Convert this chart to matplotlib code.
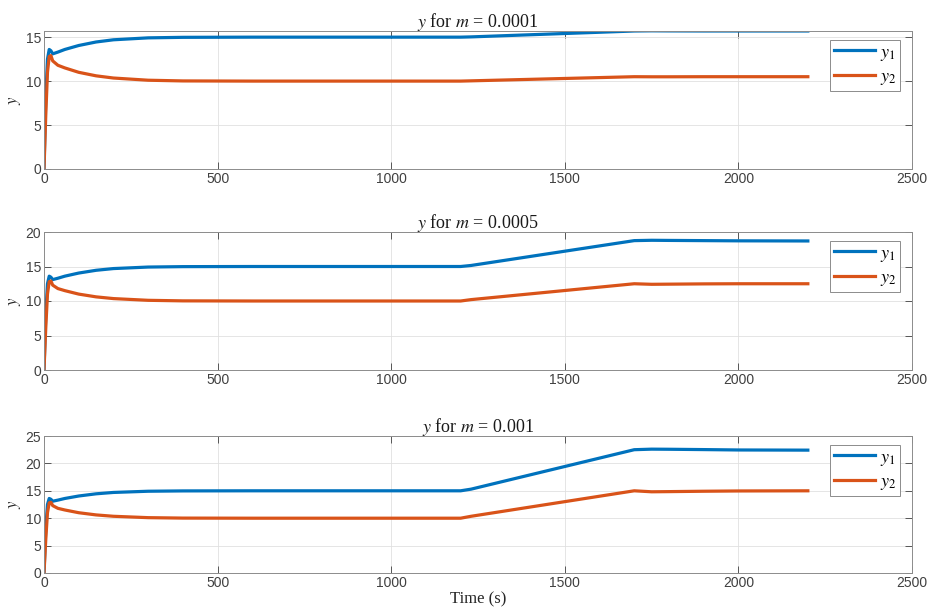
import numpy as np
import matplotlib.pyplot as plt

plt.rcParams['mathtext.fontset'] = 'stix'
plt.rcParams['font.family'] = ['Liberation Sans', 'DejaVu Sans']

# time samples (s)
t = [0, 5, 10, 15, 20, 25, 40, 60, 100, 150, 200, 300, 400, 600, 1200,
     1230, 1700, 1750, 1800, 1900, 2000, 2200]

# common start-up transient (up to 1200 s)
y1_start = [0, 8, 12.5, 13.6, 13.45, 13.1, 13.3, 13.6, 14.05, 14.45, 14.7,
            14.92, 14.98, 15.0, 15.0]
y2_start = [0, 6, 11, 12.8, 12.9, 12.3, 11.8, 11.5, 11.0, 10.6, 10.35,
            10.1, 10.02, 10.0, 10.0]

m_labels = ['0.0001', '0.0005', '0.001']

y1_tail = [
    [15.03, 15.7, 15.72, 15.71, 15.7, 15.7, 15.7],
    [15.15, 18.75, 18.8, 18.78, 18.75, 18.72, 18.7],
    [15.3, 22.5, 22.6, 22.58, 22.52, 22.45, 22.42],
]
y2_tail = [
    [10.03, 10.5, 10.49, 10.49, 10.5, 10.5, 10.5],
    [10.2, 12.5, 12.42, 12.44, 12.48, 12.5, 12.5],
    [10.35, 15.0, 14.82, 14.85, 14.92, 14.97, 15.0],
]

y_tops = [15.7, 20, 25]
y_ticks = [[0, 5, 10, 15], [0, 5, 10, 15, 20], [0, 5, 10, 15, 20, 25]]

fig = plt.figure(figsize=(9.3, 6.16), dpi=100)
boxes = [(44, 31, 169), (44, 232, 370), (44, 436, 573)]
W, H = 930, 616

for i, (x0, top, bot) in enumerate(boxes):
    ax = fig.add_axes([x0 / W, 1 - bot / H, (912 - x0) / W, (bot - top) / H])
    y1 = y1_start + y1_tail[i]
    y2 = y2_start + y2_tail[i]
    ax.plot(t, y1, color='#0072BD', lw=2.3, label='$y_1$')
    ax.plot(t, y2, color='#D95319', lw=2.3, label='$y_2$')
    ax.set_xlim(0, 2500)
    ax.set_ylim(0, y_tops[i])
    ax.set_xticks([0, 500, 1000, 1500, 2000, 2500])
    ax.set_yticks(y_ticks[i])
    ax.grid(True, color='#e0e0e0', lw=0.6)
    ax.tick_params(direction='in', top=True, right=True, length=5,
                   labelsize=10, color='#404040', labelcolor='#404040',
                   width=0.6, pad=2)
    for s in ax.spines.values():
        s.set_color('#8c8c8c')
        s.set_linewidth(0.7)
    ax.set_title('$y$ for $m$ = ' + m_labels[i], family='Liberation Serif',
                 fontsize=13, pad=3, color='#1a1a1a')
    ax.set_ylabel('$y$', fontsize=12, labelpad=2, color='#262626')
    leg = ax.legend(loc='upper right', fontsize=13, fancybox=False,
                    edgecolor='#8c8c8c', framealpha=1, borderpad=0.2,
                    handlelength=2.3, handletextpad=0.25, labelspacing=0.3,
                    borderaxespad=0, bbox_to_anchor=(0.986, 0.935))
    leg.get_frame().set_linewidth(0.7)

ax.set_xlabel('Time (s)', family='Liberation Serif', fontsize=12, labelpad=1,
              color='#262626')

fig.savefig('out.png', dpi=100)
